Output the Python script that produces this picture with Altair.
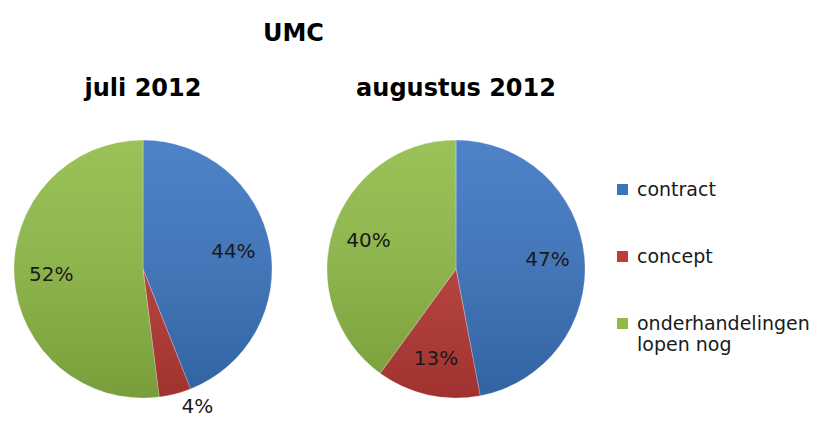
import altair as alt
import pandas as pd

months = ["juli 2012", "augustus 2012"]
categories = ["contract", "concept", "onderhandelingen lopen nog"]
juli_values = [44, 4, 52]
augustus_values = [47, 13, 40]
colors = ["#3A74C0", "#BE3B37", "#8FBB45"]

rows = []
for m, vals in zip(months, [juli_values, augustus_values]):
    for i, (c, v) in enumerate(zip(categories, vals)):
        rows.append({"month": m, "category": c, "value": v, "idx": i})
df = pd.DataFrame(rows)

FONT = "DejaVu Sans"

xenc = alt.X("month:N", scale=alt.Scale(type="point", domain=months, range=[135, 448], padding=0), axis=None)

base = alt.Chart(df).transform_stack(
    stack="value", groupby=["month"], as_=["v0", "v1"], offset="normalize",
    sort=[alt.SortField("idx", order="ascending")]
).transform_calculate(
    lt="datum.value < 5 ? (datum.v0 + datum.v1) / 2 - 0.02 : (datum.v0 + datum.v1) / 2",
    lr="datum.value < 5 ? 148 : 92",
    pct="datum.value + '%'"
)

theta_scale = alt.Scale(domain=[0, 1], range=[0, 6.283185307179586])

arcs = base.mark_arc(radius=129, stroke="#ffffff", strokeWidth=0.3).encode(
    x=xenc,
    y=alt.value(211),
    theta=alt.Theta("v0:Q", scale=theta_scale),
    theta2="v1:Q",
    color=alt.Color(
        "category:N",
        scale=alt.Scale(domain=categories, range=colors),
        legend=alt.Legend(
            title=None, orient="none", legendX=605, legendY=122,
            symbolType="square", symbolSize=121, symbolStrokeWidth=0,
            labelFont=FONT, labelFontSize=19, labelColor="#1a1a1a",
            labelOffset=5, rowPadding=47, padding=0, labelLimit=300,
            labelExpr="length(datum.label) > 20 ? [join(slice(split(datum.label, ' '), 0, 1), ' '), join(slice(split(datum.label, ' '), 1), ' ')] : datum.label",
        ),
    ),
)

shade = base.transform_filter("datum.idx == 0").mark_arc(
    radius=129,
    color=alt.LinearGradient(
        gradient="linear", x1=0, y1=0, x2=0, y2=1,
        stops=[alt.GradientStop(color="rgba(255,255,255,0.10)", offset=0),
               alt.GradientStop(color="rgba(0,0,0,0.16)", offset=1)],
    ),
).encode(
    x=xenc,
    y=alt.value(211),
    theta=alt.value(0),
    theta2=alt.value(6.283185307179586),
)

labels = base.mark_text(font=FONT, fontSize=20, color="#1a1a1a").encode(
    x=xenc,
    y=alt.value(211),
    theta=alt.Theta("lt:Q", scale=theta_scale),
    radius=alt.Radius("lr:Q", scale=None),
    text="pct:N",
)

titles = base.transform_filter("datum.idx == 0").mark_text(
    font=FONT, fontSize=24, fontWeight="bold", color="#000000", baseline="middle"
).encode(
    x=xenc,
    y=alt.value(31),
    text="month:N",
)

chart = alt.layer(arcs, shade, labels, titles).properties(
    width=807,
    height=357,
    autosize=alt.AutoSizeParams(type="none"),
    padding={"top": 50, "left": 0, "right": 0, "bottom": 8},
    title=alt.Title("UMC", anchor="start", frame="group", dx=255, offset=12,
                    font=FONT, fontSize=24, fontWeight="bold", color="#000000"),
).configure_view(stroke=None)

chart.save("out.html", embed_options={"renderer": "svg", "actions": False})
